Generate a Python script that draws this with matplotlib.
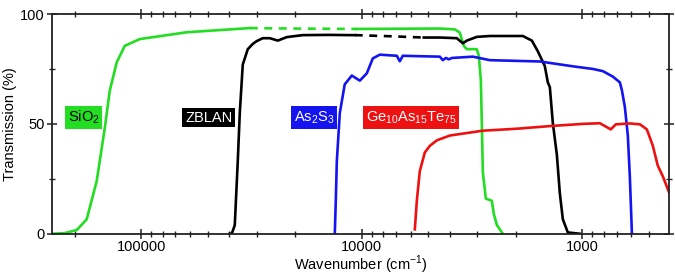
import matplotlib
matplotlib.use('Agg')
import matplotlib.pyplot as plt
from matplotlib.ticker import LogLocator, NullFormatter, FixedLocator

plt.rcParams['font.family'] = ['Liberation Sans', 'DejaVu Sans']
plt.rcParams['mathtext.fontset'] = 'custom'
plt.rcParams['mathtext.rm'] = 'Liberation Sans'

# wavenumber (cm-1) / transmission (%)
sio2_wn = [254600, 222300, 196100, 176700, 159200, 146400, 139000, 129200, 118800,
           101600, 62200, 32200]
sio2_t = [0, 0.3, 1.7, 6.6, 24, 48, 65, 78, 85.5, 88.6, 91.7, 93.6]
sio2_gap_wn = [32200, 21000, 10540]
sio2_gap_t = [93.6, 93.4, 93.2]
sio2_wn2 = [10540, 4429, 3786, 3593, 3447, 3340, 3010, 2947, 2886, 2856, 2826,
            2739, 2655, 2573, 2520, 2442, 2294]
sio2_t2 = [93.2, 93.4, 93, 91.5, 85.5, 84, 84, 81, 70, 50, 28, 16, 15.5, 15, 9, 4, 0]

zblan_wn = [39680, 38870, 37670, 36510, 35750, 34650, 32890, 31210, 29940, 28120,
            26140, 24040, 21880, 18520, 13970, 11570, 10760]
zblan_t = [0, 0, 3.9, 33, 55, 77, 84, 86.4, 87.7, 89, 89, 87.9, 89.5, 90.4, 90.5,
           90.4, 90.4]
zblan_gap_wn = [10760, 7500, 5234]
zblan_gap_t = [90.4, 89.9, 89.3]
zblan_wn2 = [5234, 4429, 3709, 3483, 3340, 3010, 2627, 1861, 1694, 1591, 1480, 1434,
             1404, 1361, 1305, 1265, 1226, 1164, 1026]
zblan_t2 = [89.3, 89.3, 89, 86.7, 87.9, 89.6, 90, 90, 87.9, 83, 76.3, 68.9, 66.7,
            50.4, 36, 18.4, 6.6, 0.6, 0]

as2s3_wn = [13260, 13120, 12980, 12580, 11950, 11100, 10210, 9491, 8916, 8286, 6938,
            6725, 6518, 5458, 4429, 4292, 4159, 4031, 3906, 3138, 2627, 1558, 1104,
            896, 807, 727, 676, 662, 642, 622, 609, 596]
as2s3_t = [0, 15, 33, 55, 68, 72, 69.7, 73, 79.8, 81.5, 81, 78.5, 81, 80.8, 80.6, 79,
           80, 79.4, 80, 80.6, 79, 78.4, 76.2, 75, 74, 71.5, 68.9, 65.4, 57.9, 44.7,
           25.9, 0]

gat_wn = [5749, 5630, 5458, 5180, 4916, 4571, 3990, 2826, 1982, 1404, 995, 833, 774,
          743, 705, 609, 548, 510, 479, 455, 431, 405]
gat_t = [2, 15, 28.5, 37, 40, 42.5, 44.7, 46.9, 47.8, 49, 50, 50.3, 48.5, 47.5, 49.8,
         50.2, 49.8, 47.5, 40, 31, 26, 19]

green = '#22dd22'
blue = '#1414f0'
red = '#ee1111'

fig = plt.figure(figsize=(6.75, 2.75), dpi=100)
ax = fig.add_axes([0.077, 0.15, 0.914, 0.799])

lw = 1.9
ax.plot(sio2_wn, sio2_t, color=green, lw=lw)
ax.plot(sio2_gap_wn, sio2_gap_t, color=green, lw=lw, ls=(0, (3, 2.5)))
ax.plot(sio2_wn2, sio2_t2, color=green, lw=lw)
ax.plot(zblan_wn, zblan_t, color='black', lw=lw)
ax.plot(zblan_gap_wn, zblan_gap_t, color='black', lw=lw, ls=(0, (3, 2.5)))
ax.plot(zblan_wn2, zblan_t2, color='black', lw=lw)
ax.plot(as2s3_wn, as2s3_t, color=blue, lw=lw)
ax.plot(gat_wn, gat_t, color=red, lw=lw)

ax.set_xscale('log')
ax.set_xlim(254000, 405)
ax.set_ylim(0, 100)
ax.xaxis.set_major_locator(FixedLocator([100000, 10000, 1000]))
ax.set_xticklabels(['100000', '10000', '1000'])
ax.xaxis.set_minor_locator(LogLocator(base=10, subs=range(2, 10)))
ax.xaxis.set_minor_formatter(NullFormatter())
ax.set_yticks([0, 50, 100])
ax.set_yticks([25, 75], minor=True)

ax.tick_params(which='major', direction='inout', length=7, width=1.1, top=True,
               right=True, labelsize=10.5, pad=2, colors='#222222',
               labelcolor='black')
ax.tick_params(axis='x', which='major', pad=1)
ax.tick_params(which='minor', direction='inout', length=4, width=1.0, top=True,
               right=True, colors='#222222')
for s in ax.spines.values():
    s.set_linewidth(1.3)
    s.set_color('#222222')

ax.set_xlabel('Wavenumber (cm$^{-1}$)', fontsize=10.5, labelpad=-0.5)
ax.set_ylabel('Transmission (%)', fontsize=10.5, labelpad=2)

ty = 0.529
ax.text(0.051, ty, 'SiO$_2$', transform=ax.transAxes, ha='center', va='center',
        fontsize=10.5, color='black',
        bbox=dict(boxstyle='square,pad=0.2', fc=green, ec='none'))
ax.text(0.254, ty, 'ZBLAN', transform=ax.transAxes, ha='center', va='center',
        fontsize=10.5, color='white',
        bbox=dict(boxstyle='square,pad=0.2', fc='black', ec='none'))
ax.text(0.425, ty, 'As$_2$S$_3$', transform=ax.transAxes, ha='center', va='center',
        fontsize=10.5, color='white',
        bbox=dict(boxstyle='square,pad=0.2', fc=blue, ec='none'))
ax.text(0.582, ty, 'Ge$_{10}$As$_{15}$Te$_{75}$', transform=ax.transAxes, ha='center',
        va='center', fontsize=10.5, color='white',
        bbox=dict(boxstyle='square,pad=0.2', fc=red, ec='none'))

fig.savefig('out.png', dpi=100)
